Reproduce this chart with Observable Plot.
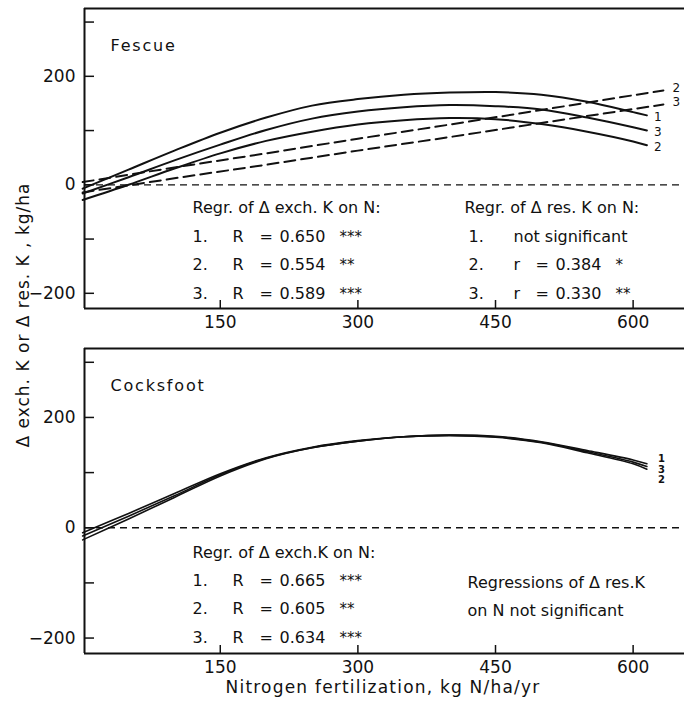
<!DOCTYPE html>
<html><head><meta charset="utf-8">
<script src="https://cdn.jsdelivr.net/npm/d3@7"></script>
<script src="https://cdn.jsdelivr.net/npm/@observablehq/plot@0.6"></script>
<style>
body{margin:0;background:#fff;}
#chart{position:relative;width:684px;height:701px;font-family:"DejaVu Sans",sans-serif;color:#111;overflow:hidden;background:#fff}
#top,#bottom{position:absolute;left:0}
#top{top:0}
#bottom{top:340px}
.ylab{position:absolute;left:23px;top:315px;transform:translate(-50%,-50%) rotate(-90deg);white-space:nowrap;font-size:17px;line-height:20px;letter-spacing:1px}
.xlab{position:absolute;left:383px;top:677px;transform:translateX(-50%);white-space:nowrap;font-size:17px;line-height:20px;letter-spacing:1.2px}
</style></head>
<body>
<div id="chart">
  <div id="top"></div>
  <div id="bottom"></div>
  <div class="ylab">Δ exch. K or Δ res. K , kg/ha</div>
  <div class="xlab">Nitrogen fertilization, kg N/ha/yr</div>
</div>
<script>
// ---------- data ----------
const nitrogen = [0, 50, 100, 150, 200, 250, 300, 350, 400, 450, 500, 550, 600, 615];
const fescueExch1 = [-7, 28, 63, 96, 124, 146, 158, 166, 170, 171, 166, 153, 134, 128];
const fescueExch2 = [-28, 0, 30, 58, 81, 98, 111, 119, 123, 121, 112, 98, 80, 73];
const fescueExch3 = [-16, 14, 45, 74, 101, 122, 135, 143, 147, 145, 139, 124, 106, 100];
const resNitrogen = [0, 100, 200, 300, 400, 500, 633];
const fescueRes2 = [5, 32, 58, 85, 111, 138, 174];
const fescueRes3 = [-14, 12, 37, 63, 88, 114, 148];
const cocksExch1 = [-9, 26, 62, 98, 127, 146, 158, 165, 168, 166, 156, 140, 123, 116];
const cocksExch2 = [-22, 16, 55, 94, 125, 145, 157, 165, 167, 164, 154, 136, 116, 106];
const cocksExch3 = [-15, 21, 58, 96, 126, 145, 157, 165, 168, 165, 155, 138, 119, 111];

const xTicks = [150, 300, 450, 600];
const yTicks = [-200, -100, 0, 100, 200, 300];
const yTickLabels = [-200, 0, 200];

const regNumbers = ["1.", "2.", "3."];
const fescueExchR = ["0.650", "0.554", "0.589"];
const fescueExchSig = ["***", "**", "***"];
const fescueResR = ["", "0.384", "0.330"];
const fescueResSig = ["", "*", "**"];
const cocksExchR = ["0.665", "0.605", "0.634"];
const cocksExchSig = ["***", "**", "***"];

// ---------- tables ----------
function series(xs, ys, s) { return xs.map((n, i) => ({n, v: ys[i], s})); }
const fescueSolid = [
  ...series(nitrogen, fescueExch1, "1"),
  ...series(nitrogen, fescueExch2, "2"),
  ...series(nitrogen, fescueExch3, "3")];
const fescueDashed = [
  ...series(resNitrogen, fescueRes2, "2"),
  ...series(resNitrogen, fescueRes3, "3")];
const cocksSolid = [
  ...series(nitrogen, cocksExch1, "1"),
  ...series(nitrogen, cocksExch2, "2"),
  ...series(nitrogen, cocksExch3, "3")];
const lastOf = (rows) => d3.groups(rows, d => d.s).map(([s, r]) => r[r.length - 1]);

// ---------- layout ----------
const ink = "#111";
const xDomain = [2, 656];
const yDomain = [-228, 325];

function note(text, dx, dy, extra = {}) {
  return Plot.text([text], {frameAnchor: "top-left", dx, dy, text: d => d,
    textAnchor: "start", lineAnchor: "bottom", fontSize: 16, fill: ink, ...extra});
}

function axes() {
  return [
    Plot.ruleX([xDomain[0]], {stroke: ink, strokeWidth: 2}),
    Plot.ruleY([yDomain[0], yDomain[1]], {stroke: ink, strokeWidth: 2}),
    Plot.ruleY([0], {stroke: ink, strokeWidth: 1.3, strokeDasharray: "7,5"}),
    Plot.axisY(yTicks, {tickSize: 10, dx: 10, fill: "none", stroke: ink, strokeWidth: 1.5, label: null}),
    Plot.axisY(yTickLabels, {tickSize: 0, tickPadding: 9, fontSize: 17, fill: ink, label: null,
      tickFormat: d => d < 0 ? "\u2212" + (-d) : String(d)}),
    Plot.axisX(xTicks, {tickSize: 8, dy: -8, fill: "none", stroke: ink, strokeWidth: 1.5, label: null}),
    Plot.axisX(xTicks, {tickSize: 0, tickPadding: 7, fontSize: 17, fill: ink, label: null})
  ];
}

function table(rows, rVals, sig, dy0, step) {
  const m = [];
  rows.forEach((num, i) => {
    const dy = dy0 + i * step;
    m.push(note(num, 108, dy));
    m.push(note("R", 148, dy));
    m.push(note("=", 175, dy));
    m.push(note(rVals[i], 195, dy));
    m.push(note(sig[i], 255, dy, {fontSize: 15}));
  });
  return m;
}

const common = {
  width: 684,
  marginLeft: 84, marginRight: 0, marginTop: 8,
  x: {domain: xDomain},
  y: {domain: yDomain},
  style: {fontFamily: "DejaVu Sans, sans-serif", background: "#fff", color: ink}
};

// ---------- Fescue ----------
const fescueMarks = [
  ...axes(),
  Plot.line(fescueSolid, {x: "n", y: "v", z: "s", curve: "catmull-rom", stroke: ink, strokeWidth: 2}),
  Plot.line(fescueDashed, {x: "n", y: "v", z: "s", stroke: ink, strokeWidth: 2, strokeDasharray: "11,6"}),
  Plot.text(lastOf(fescueSolid), {x: "n", y: "v", text: "s", dx: 7, dy: 2, textAnchor: "start", fontSize: 12, fill: ink}),
  Plot.text(lastOf(fescueDashed), {x: "n", y: "v", text: "s", dx: 9, dy: -2, textAnchor: "start", fontSize: 12, fill: ink}),
  note("Fescue", 26, 42, {fontSize: 16}),
  note("Regr. of \u0394 exch. K on N:", 108, 204),
  ...table(regNumbers, fescueExchR, fescueExchSig, 233, 28.5),
  note("Regr. of \u0394 res. K on N:", 380, 204),
  note(regNumbers[0], 384, 233),
  note("not significant", 429, 233),
  note(regNumbers[1], 384, 261.5),
  note("r", 429, 261.5),
  note("=", 451, 261.5),
  note(fescueResR[1], 471, 261.5),
  note(fescueResSig[1], 531, 261.5, {fontSize: 15}),
  note(regNumbers[2], 384, 290),
  note("r", 429, 290),
  note("=", 451, 290),
  note(fescueResR[2], 471, 290),
  note(fescueResSig[2], 531, 290, {fontSize: 15})
];
const fescuePlot = Plot.plot({...common, height: 335, marginBottom: 27, marks: fescueMarks});

// ---------- Cocksfoot ----------
const cocksEnds = lastOf(cocksSolid);
const endLabel = (s, dy) => Plot.text(cocksEnds.filter(d => d.s === s),
  {x: "n", y: "v", text: "s", dx: 11, dy, textAnchor: "start", fontSize: 10, fontWeight: "bold", fill: ink});
const cocksMarks = [
  ...axes(),
  Plot.line(cocksSolid, {x: "n", y: "v", z: "s", curve: "catmull-rom", stroke: ink, strokeWidth: 1.6}),
  endLabel("1", -5),
  endLabel("3", 3),
  endLabel("2", 11),
  note("Cocksfoot", 26, 42, {fontSize: 16}),
  note("Regr. of \u0394 exch.K on N:", 108, 209),
  ...table(regNumbers, cocksExchR, cocksExchSig, 237, 28.5),
  note("Regressions of \u0394 res.K", 383, 239),
  note("on N not significant", 383, 267)
];
const cocksPlot = Plot.plot({...common, height: 361, marginBottom: 48, marks: cocksMarks});

function spaceTitles(svg) {
  svg.querySelectorAll("text").forEach(t => {
    if (t.textContent === "Fescue" || t.textContent === "Cocksfoot") t.style.letterSpacing = "1.8px";
  });
}
spaceTitles(fescuePlot);
spaceTitles(cocksPlot);
document.getElementById("top").append(fescuePlot);
document.getElementById("bottom").append(cocksPlot);
</script>
</body></html>
